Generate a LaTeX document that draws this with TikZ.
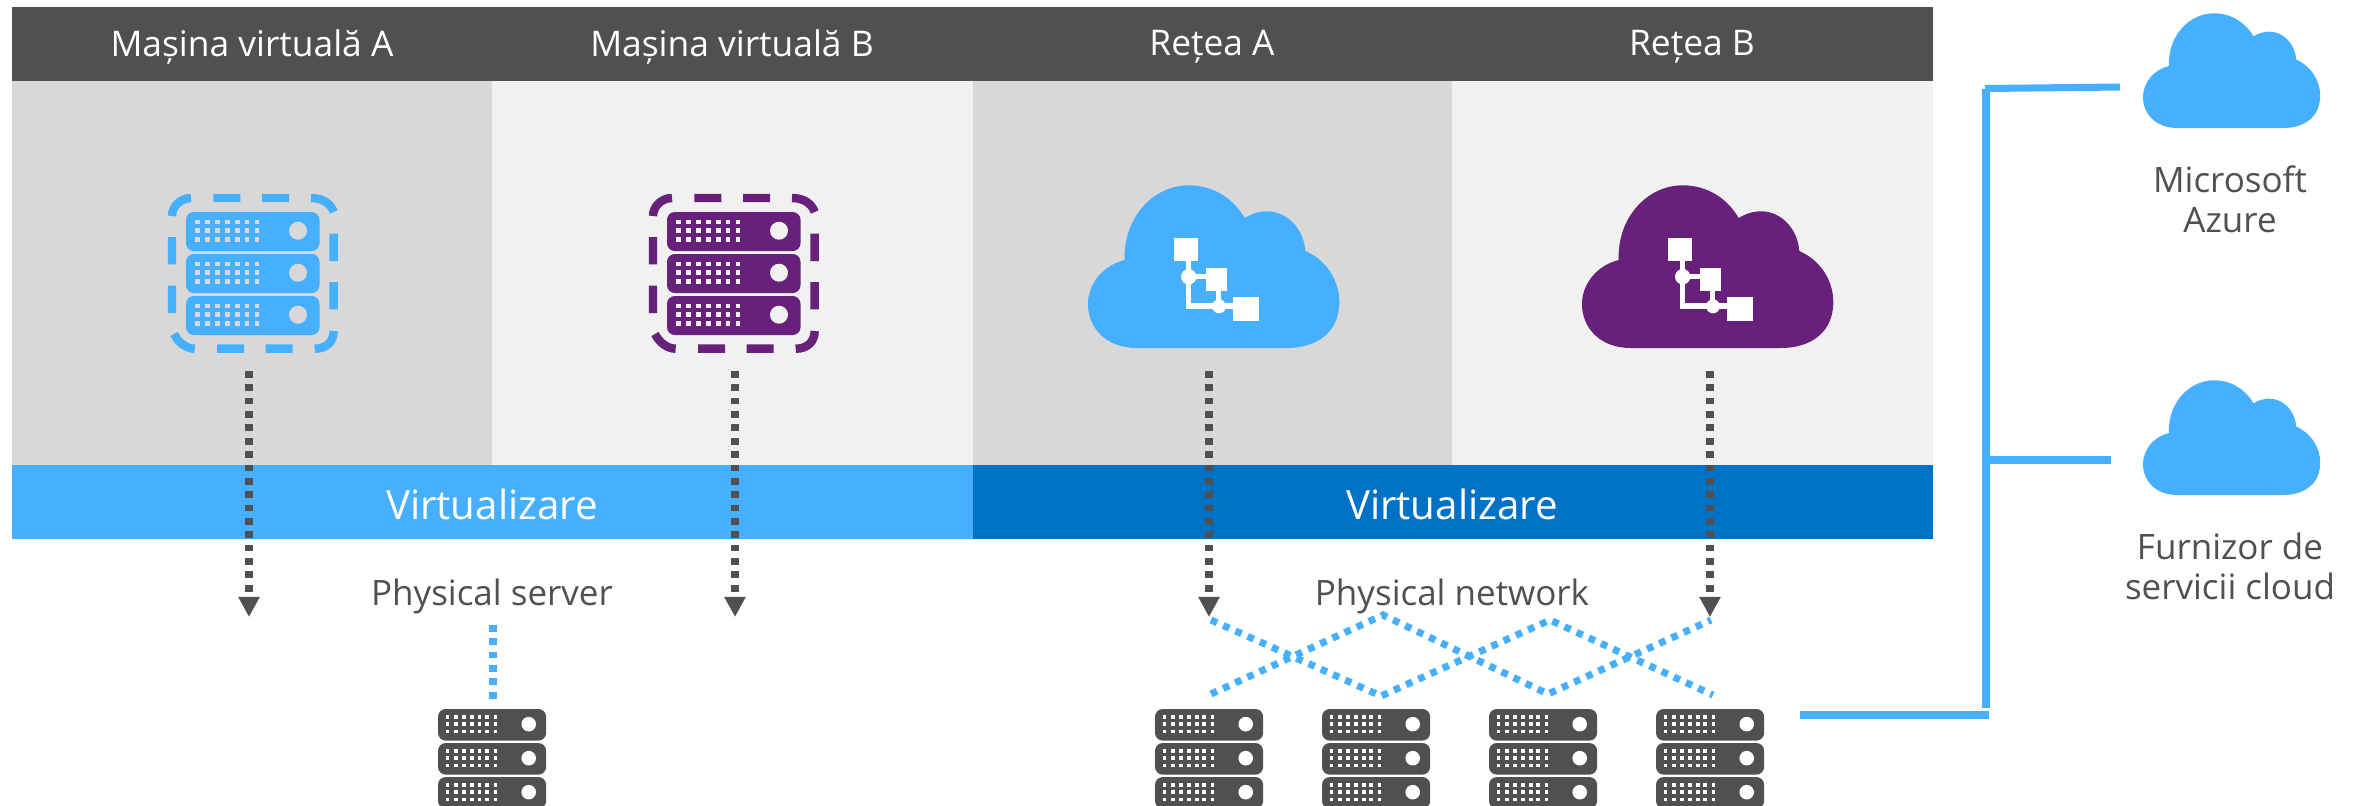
\documentclass[tikz,border=0pt]{standalone}
\usepackage{fontspec}
\setmainfont{Open Sans}
\usetikzlibrary{arrows.meta}

\definecolor{darkbar}{HTML}{505050}
\definecolor{panelgray}{HTML}{D8D8D8}
\definecolor{panellight}{HTML}{F1F1F1}
\definecolor{skyblue}{HTML}{46AFFF}
\definecolor{deepblue}{HTML}{0072C6}
\definecolor{vmpurple}{HTML}{68217A}

\tikzset{
  headtext/.style={text=white,font=\fontsize{10.05}{11}\selectfont},
  bandtext/.style={text=white,font=\fontsize{11.45}{12}\selectfont},
  caption/.style={text=darkbar,align=center,font=\fontsize{9.95}{11.3}\selectfont},
  dotdark/.style={draw=darkbar,line width=2pt,dash pattern=on 1.9pt off 1.9pt,
    -{Triangle[width=5.7pt,length=5.7pt]}},
  dotblue/.style={draw=skyblue,line width=2pt,dash pattern=on 1.9pt off 1.9pt},
  linkline/.style={draw=skyblue,line width=2pt}
}

% one rack of three bars, #1 place of top left corner, #2 scale, #3 colour, #4 colour of holes
\newcommand{\serverrack}[4]{
\begin{scope}[shift={(#1)},scale=#2]
\foreach \bartop in {0,42,84}{
  \fill[#3,rounded corners=2.2pt] (0,\bartop) rectangle (133.5,\bartop+39);
  \fill[#4] (112,\bartop+18.7) circle (9);
  \foreach \dotx in {11.7,21.7,31.7,41.5,51.3,61,71}
    \foreach \doty in {10,18.7,27.7}
      \fill[#4] (\dotx-2.4,\bartop+\doty-2.4) rectangle (\dotx+2.4,\bartop+\doty+2.4);
}
\end{scope}
}

% the broken frame round a virtual rack
\newcommand{\vmframe}[2]{
\begin{scope}[shift={(#1)}]
\draw[#2,line width=2.4pt]
  (-14,4) .. controls (-14,-6) and (-5,-14) .. (5,-14)
  (27.3,-14) -- (54.3,-14) (76,-14) -- (103,-14)
  (125,-14) .. controls (137,-14) and (145,-8) .. (147.7,0)
  (147.7,21.7) -- (147.7,49) (147.7,70) -- (147.7,97.3)
  (147.7,119) .. controls (147.7,130) and (140,136.7) .. (128.7,136.7)
  (106.7,136.7) -- (79.7,136.7) (58,136.7) -- (31,136.7)
  (8.7,136.7) .. controls (0,136.7) and (-8,130) .. (-12,122)
  (-14,101) -- (-14,73.7) (-14,52.3) -- (-14,25);
\end{scope}
}

% #1 lower left corner, #2 scale, #3 colour
\newcommand{\cloudshape}[3]{
\fill[#3,shift={(#1)},scale=#2] (49,0)
  .. controls (18,0) and (0,-20) .. (0,-44)
  .. controls (0,-65) and (16,-83) .. (36.7,-88)
  .. controls (35,-130) and (65,-162.7) .. (100.7,-162.7)
  .. controls (125,-162.7) and (145,-150) .. (156.7,-130)
  .. controls (163,-134) and (171,-136.7) .. (179,-136.7)
  .. controls (200,-136.7) and (216,-118) .. (217.3,-97)
  .. controls (238,-88) and (251.3,-68) .. (251.3,-46)
  .. controls (251.3,-15) and (228,0) .. (199,0) -- cycle;
}

\newcommand{\cloudmesh}[1]{
\begin{scope}[shift={(#1)}]
\fill[white] (85.7,-110) rectangle (109.7,-86.7);
\fill[white] (117.7,-80.3) rectangle (139.3,-56.7);
\fill[white] (145,-50.7) rectangle (171.3,-27);
\draw[white,line width=1.5pt] (100.7,-87) -- (100.7,-42) -- (145,-42);
\draw[white,line width=1.5pt] (100.7,-71.5) -- (118,-71.5);
\draw[white,line width=1.5pt] (130.7,-57) -- (130.7,-42);
\fill[white] (100.7,-71.3) circle (7.7);
\fill[white] (131,-41.7) circle (7);
\end{scope}
}

\begin{document}
\begin{tikzpicture}[x=0.01cm,y=-0.01cm]
\useasboundingbox (0,0) rectangle (2365,805);

\fill[panelgray] (12,81) rectangle (492,465);
\fill[panellight] (492,81) rectangle (973,465);
\fill[panelgray] (973,81) rectangle (1452,465);
\fill[panellight] (1452,81) rectangle (1933,465);
\fill[darkbar] (12,7) rectangle (1933,81);
\fill[skyblue] (12,465) rectangle (973,539);
\fill[deepblue] (973,465) rectangle (1933,539);

\node[headtext] (headVmA) at (252,47) {Mașina virtuală A};
\node[headtext] (headVmB) at (732,47) {Mașina virtuală B};
\node[headtext] (headNetA) at (1212,47) {Rețea A};
\node[headtext] (headNetB) at (1692,47) {Rețea B};
\node[bandtext] (bandA) at (492,504) {Virtualizare};
\node[bandtext] (bandB) at (1452,504) {Virtualizare};
\node[caption] (physServer) at (492,596) {Physical server};
\node[caption] (physNetwork) at (1452,596) {Physical network};
\node[caption] (capAzure) at (2230,199) {Microsoft\\Azure};
\node[caption] (capProvider) at (2230,566) {Furnizor de\\servicii cloud};

% icons in the panels
\coordinate (vmA) at (186,212);
\coordinate (vmB) at (667,212);
\coordinate (cloudA) at (1088,348);
\coordinate (cloudB) at (1582,348);
\serverrack{vmA}{1}{skyblue}{panelgray}
\vmframe{vmA}{skyblue}
\serverrack{vmB}{1}{vmpurple}{panellight}
\vmframe{vmB}{vmpurple}
\cloudshape{cloudA}{1}{skyblue}
\cloudmesh{cloudA}
\cloudshape{cloudB}{1}{vmpurple}
\cloudmesh{cloudB}

% physical racks
\coordinate (rackServer) at (438,709);
\coordinate (rackNetA) at (1155,709);
\coordinate (rackNetB) at (1322,709);
\coordinate (rackNetC) at (1489,709);
\coordinate (rackNetD) at (1656,709);
\foreach \rackname in {rackServer,rackNetA,rackNetB,rackNetC,rackNetD}{
  \serverrack{\rackname}{0.81}{darkbar}{white}
}

% clouds on the right
\coordinate (cloudAzure) at (2143,128);
\coordinate (cloudProvider) at (2143,495);
\cloudshape{cloudAzure}{0.705}{skyblue}
\cloudshape{cloudProvider}{0.705}{skyblue}

% dotted arrows
\coordinate (vmAout) at (249,371);
\coordinate (vmAend) at (249,617);
\coordinate (vmBout) at (735,371);
\coordinate (vmBend) at (735,617);
\coordinate (netAout) at (1209,371);
\coordinate (netAend) at (1209,617);
\coordinate (netBout) at (1710,371);
\coordinate (netBend) at (1710,617);
\draw[dotdark] (vmAout) -- (vmAend);
\draw[dotdark] (vmBout) -- (vmBend);
\draw[dotdark] (netAout) -- (netAend);
\draw[dotdark] (netBout) -- (netBend);

% physical wiring
\coordinate (srvTop) at (493,625);
\coordinate (srvLow) at (493,699);
\draw[dotblue] (srvTop) -- (srvLow);
\coordinate (crossA) at (1211,620);
\coordinate (crossB) at (1381,696);
\coordinate (crossC) at (1550,620);
\coordinate (crossD) at (1713,695);
\coordinate (crossE) at (1211,694);
\coordinate (crossF) at (1383,615);
\coordinate (crossG) at (1548,694);
\coordinate (crossH) at (1711,620);
\draw[dotblue] (crossA) -- (crossB) -- (crossC) -- (crossD);
\draw[dotblue] (crossE) -- (crossF) -- (crossG) -- (crossH);

% links to the clouds
\coordinate (trunkTop) at (1986,89);
\coordinate (trunkLow) at (1986,708);
\coordinate (azureEnd) at (2120,87);
\coordinate (azureStart) at (1985,88.5);
\coordinate (providerStart) at (1990,460);
\coordinate (providerEnd) at (2111,460);
\coordinate (rackStart) at (1800,715);
\coordinate (rackEnd) at (1989,715);
\draw[linkline] (trunkTop) -- (trunkLow);
\draw[linkline] (azureStart) -- (azureEnd);
\draw[linkline] (providerStart) -- (providerEnd);
\draw[linkline] (rackStart) -- (rackEnd);
\end{tikzpicture}
\end{document}
